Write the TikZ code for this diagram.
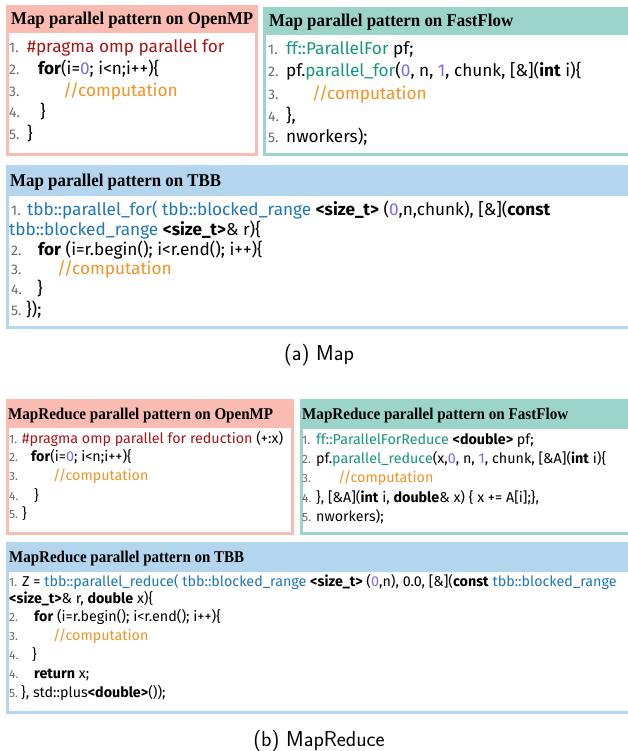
\documentclass[tikz,border=0pt]{standalone}
\usepackage{fontspec}
\usepackage{graphicx}
\newfontfamily\codefont{Fira Sans}
\newfontfamily\headfont[FakeStretch=0.92]{Liberation Serif}

\definecolor{ompred}{RGB}{250,188,178}
\definecolor{ffgreen}{RGB}{155,213,201}
\definecolor{tbbsky}{RGB}{179,213,238}
\definecolor{pragmared}{RGB}{168,18,22}
\definecolor{ffteal}{RGB}{22,150,128}
\definecolor{tbbblue}{RGB}{28,118,184}
\definecolor{commentorange}{RGB}{242,146,38}
\definecolor{numpurple}{RGB}{118,108,232}
\definecolor{lngray}{RGB}{105,105,105}

% syntax highlighting helpers
\newcommand{\kw}[1]{\textbf{#1}}
\newcommand{\prg}[1]{\textcolor{pragmared}{#1}}
\newcommand{\ffc}[1]{\textcolor{ffteal}{#1}}
\newcommand{\tbc}[1]{\textcolor{tbbblue}{#1}}
\newcommand{\cmt}[1]{\textcolor{commentorange}{#1}}
\newcommand{\nmb}[1]{\textcolor{numpurple}{#1}}

% set a heading so that it spans exactly #1 pt
\newlength\fitlen
\newcommand{\fitto}[2]{%
  \settowidth{\fitlen}{#2}%
  \scalebox{\fpeval{#1/(\fitlen/1pt)}}[1]{#2}}

\tikzset{
  codebig/.style={anchor=base west, inner sep=0pt, font=\codefont\fontsize{17.2}{20}\selectfont},
  codesmall/.style={anchor=base west, inner sep=0pt, font=\codefont\fontsize{14.3}{17}\selectfont},
  lnbig/.style={anchor=base west, inner sep=0pt, text=lngray, font=\codefont\fontsize{14}{16}\selectfont},
  lnsmall/.style={anchor=base west, inner sep=0pt, text=lngray, font=\codefont\fontsize{12}{14}\selectfont},
  titlebig/.style={anchor=base west, inner sep=0pt, font=\headfont\bfseries\fontsize{18}{20}\selectfont},
  titlesmall/.style={anchor=base west, inner sep=0pt, font=\headfont\bfseries\fontsize{16.4}{18}\selectfont},
  captiontext/.style={anchor=base, inner sep=0pt, font=\sffamily\fontsize{21.5}{24}\selectfont},
}

% \panel{x1}{y1}{x2}{y2}{header bottom}{colour}
\newcommand{\panel}[6]{%
  \fill[#6] (#1,#2) rectangle (#3,#5);
  \draw[#6, line width=3pt] (#1,#2) rectangle (#3,#4);
}

\begin{document}
\begin{tikzpicture}[x=1pt,y=-1pt]
\useasboundingbox (0,0) rectangle (627,751);
\fill[white] (0,0) rectangle (627,751);

% ---------------- (a) Map ----------------
\panel{7.5}{6.5}{256.5}{154.5}{33}{ompred}
\panel{264.5}{9}{634}{154.5}{35}{ffgreen}
\panel{7}{167}{634}{327}{196}{tbbsky}

\node[titlebig] (tA) at (11,25) {\fitto{242}{Map parallel pattern on OpenMP}};
\node[lnbig] (nA1) at (9,53) {1.};
\node[codebig] (cA1) at (27,53) {\prg{\#pragma omp parallel for}};
\node[lnbig] (nA2) at (9,75) {2.};
\node[codebig] (cA2) at (38,75) {\kw{for}(i=\nmb{0}; i<n;i++)\{};
\node[lnbig] (nA3) at (9,97) {3.};
\node[codebig] (cA3) at (63,97) {\cmt{//computation}};
\node[lnbig] (nA4) at (9,118) {4.};
\node[codebig] (cA4) at (40,118) {\}};
\node[lnbig] (nA5) at (9,140) {5.};
\node[codebig] (cA5) at (27,140) {\}};

\node[titlebig] (tB) at (269,27) {\fitto{244}{Map parallel pattern on FastFlow}};
\node[lnbig] (nB1) at (268,55) {1.};
\node[codebig] (cB1) at (286,55) {\ffc{ff::ParallelFor} pf;};
\node[lnbig] (nB2) at (268,77) {2.};
\node[codebig] (cB2) at (286,77) {pf.\ffc{parallel\_for}(\nmb{0}, n, \nmb{1}, chunk, [\&](\kw{int} i)\{};
\node[lnbig] (nB3) at (268,100) {3.};
\node[codebig] (cB3) at (312,100) {\cmt{//computation}};
\node[lnbig] (nB4) at (268,122) {4.};
\node[codebig] (cB4) at (286,122) {\},};
\node[lnbig] (nB5) at (268,143) {5.};
\node[codebig] (cB5) at (286,143) {nworkers);};

\node[titlebig] (tC) at (10,187) {\fitto{211}{Map parallel pattern on TBB}};
\node[lnbig] (nC1) at (11,215) {1.};
\node[codebig] (cC1) at (27,215) {\tbc{tbb::parallel\_for(} \tbc{tbb::blocked\_range} \kw{<size\_t>} (\nmb{0},n,chunk), [\&](\kw{const}};
\node[codebig] (cC1b) at (9,235) {\tbc{tbb::blocked\_range} \kw{<size\_t>}\& r)\{};
\node[lnbig] (nC2) at (11,255) {2.};
\node[codebig] (cC2) at (38,255) {\kw{for} (i=r.begin(); i<r.end(); i++)\{};
\node[lnbig] (nC3) at (11,274) {3.};
\node[codebig] (cC3) at (57,274) {\cmt{//computation}};
\node[lnbig] (nC4) at (11,294) {4.};
\node[codebig] (cC4) at (37,294) {\}};
\node[lnbig] (nC5) at (11,315) {5.};
\node[codebig] (cC5) at (26,315) {\});};

\node[captiontext] (capA) at (319,360) {(a) Map};

% ---------------- (b) MapReduce ----------------
\panel{7}{400}{292}{533}{428}{ompred}
\panel{301}{400}{634}{533}{429}{ffgreen}
\panel{7}{543}{634}{712}{572}{tbbsky}

\node[titlesmall] (tD) at (8,419) {\fitto{265}{MapReduce parallel pattern on OpenMP}};
\node[lnsmall] (nD1) at (9,443) {1.};
\node[codesmall] (cD1) at (22,443) {\prg{\#pragma omp parallel for reduction} (+:x)};
\node[lnsmall] (nD2) at (9,461) {2.};
\node[codesmall] (cD2) at (31,461) {\kw{for}(i=\nmb{0}; i<n;i++)\{};
\node[lnsmall] (nD3) at (9,480) {3.};
\node[codesmall] (cD3) at (53,480) {\cmt{//computation}};
\node[lnsmall] (nD4) at (9,500) {4.};
\node[codesmall] (cD4) at (34,500) {\}};
\node[lnsmall] (nD5) at (9,518) {5.};
\node[codesmall] (cD5) at (22,518) {\}};

\node[titlesmall] (tE) at (302,419) {\fitto{266}{MapReduce parallel pattern on FastFlow}};
\node[lnsmall] (nE1) at (302,444) {1.};
\node[codesmall] (cE1) at (316,444) {\ffc{ff::ParallelForReduce} \kw{<double>} pf;};
\node[lnsmall] (nE2) at (302,463) {2.};
\node[codesmall] (cE2) at (316,463) {pf.\ffc{parallel\_reduce}(x,\nmb{0}, n, \nmb{1}, chunk, [\&A](\kw{int} i)\{};
\node[lnsmall] (nE3) at (302,482) {3.};
\node[codesmall] (cE3) at (338,482) {\cmt{//computation}};
\node[lnsmall] (nE4) at (302,502) {4.};
\node[codesmall] (cE4) at (316,502) {\}, [\&A](\kw{int} i, \kw{double}\& x) \{ x += A[i];\},};
\node[lnsmall] (nE5) at (302,521) {5.};
\node[codesmall] (cE5) at (316,521) {nworkers);};

\node[titlesmall] (tF) at (9,562) {\fitto{235}{MapReduce parallel pattern on TBB}};
\node[lnsmall] (nF1) at (9,586) {1.};
\node[codesmall] (cF1) at (22,586) {Z = \tbc{tbb::parallel\_reduce(} \tbc{tbb::blocked\_range} \kw{<size\_t>} (\nmb{0},n), 0.0, [\&](\kw{const} \tbc{tbb::blocked\_range}};
\node[codesmall] (cF1b) at (9,603) {\kw{<size\_t>}\& r, \kw{double} x)\{};
\node[lnsmall] (nF2) at (9,621) {2.};
\node[codesmall] (cF2) at (34,621) {\kw{for} (i=r.begin(); i<r.end(); i++)\{};
\node[lnsmall] (nF3) at (9,640) {3.};
\node[codesmall] (cF3) at (53,640) {\cmt{//computation}};
\node[lnsmall] (nF4) at (9,659) {4.};
\node[codesmall] (cF4) at (32,659) {\}};
\node[lnsmall] (nF5) at (9,678) {4.};
\node[codesmall] (cF5) at (34,678) {\kw{return} x;};
\node[lnsmall] (nF6) at (9,697) {5.};
\node[codesmall] (cF6) at (21,697) {\}, std::plus\kw{<double>}());};

\node[captiontext] (capB) at (319,746) {(b) MapReduce};
\end{tikzpicture}
\end{document}
